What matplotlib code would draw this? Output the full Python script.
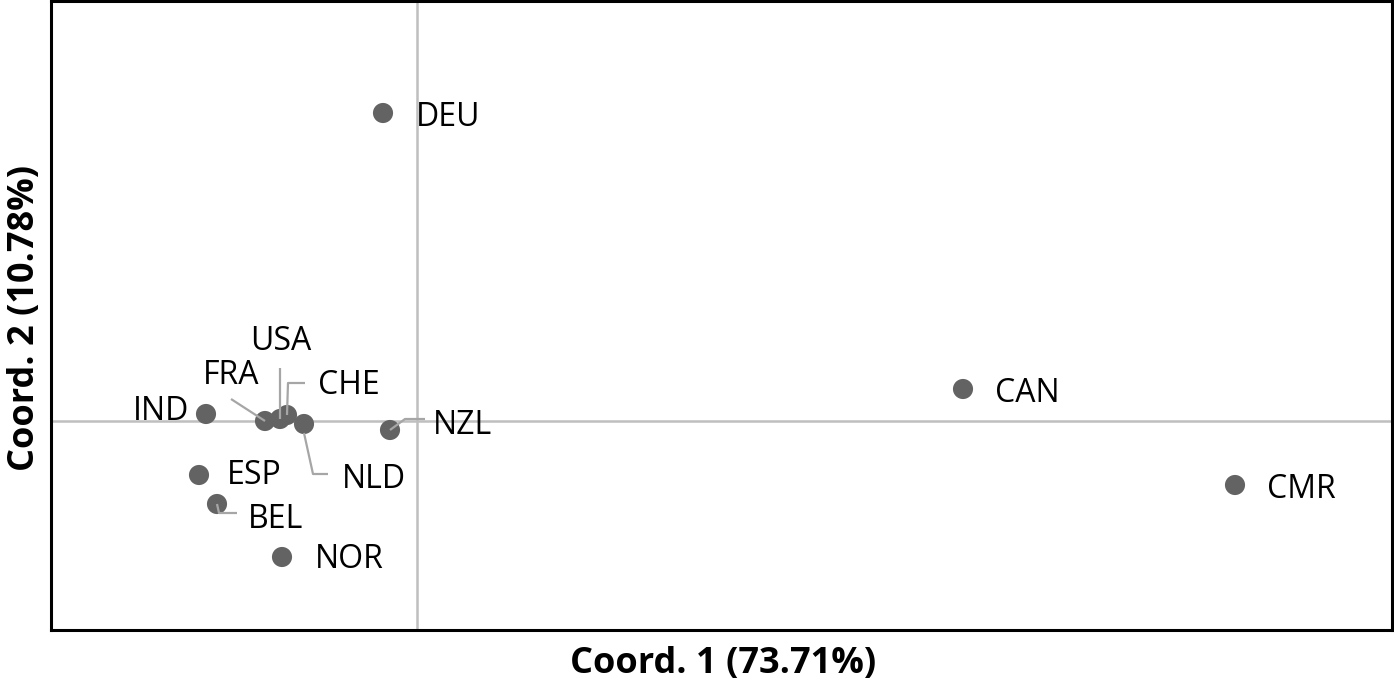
import matplotlib
matplotlib.use("Agg")
import matplotlib.pyplot as plt

# * Data
countries = ["DEU", "CAN", "CMR", "IND", "FRA", "USA", "CHE", "NLD", "NZL", "ESP", "BEL", "NOR"]
coord1 = [-0.34, 5.46, 8.18, -2.11, -1.52, -1.37, -1.30, -1.13, -0.27, -2.18, -2.00, -1.35]
coord2 = [3.08, 0.32, -0.64, 0.07, 0.00, 0.02, 0.06, -0.03, -0.09, -0.54, -0.83, -1.36]

x_label = "Coord. 1 (73.71%)"
y_label = "Coord. 2 (10.78%)"

# * Label placement (pixel offsets from the dot, y up)
# (dx, dy, ha)
label_off = {
    "DEU": (33, -4, "left"), "CAN": (32, -4, "left"), "CMR": (32, -4, "left"),
    "IND": (-17, 3, "right"), "FRA": (-34, 46, "center"), "USA": (1, 77, "center"),
    "CHE": (31, 30, "left"), "NLD": (38, -55, "left"), "NZL": (43, 5, "left"),
    "ESP": (28, 0, "left"), "BEL": (31, -15, "left"), "NOR": (33, -3, "left"),
}
# leader lines: elbow points as pixel offsets from the dot
leaders = {
    "FRA": [(0, 0), (-34, 22)],
    "USA": [(0, 0), (0, 51)],
    "CHE": [(0, 0), (1, 32), (18, 32)],
    "NLD": [(0, -9), (9, -50), (24, -50)],
    "NZL": [(0, 0), (15, 11), (35, 11)],
    "BEL": [(0, 0), (2, -9), (20, -9)],
}

px = 100.0  # pixels per data unit, both axes

fig = plt.figure(figsize=(13.94, 6.91), dpi=100)
ax = fig.add_axes([51 / 1394, 1 - 630 / 691, 1341 / 1394, 629 / 691])
ax.set_xlim(-3.66, 9.75)
ax.set_ylim(-2.09, 4.20)

ax.axhline(0, color="#bfbfbf", lw=1.8, zorder=1)
ax.axvline(0, color="#bfbfbf", lw=1.8, zorder=1)

ax.scatter(coord1, coord2, s=210, color="#636363", edgecolors="none", zorder=3)

font = ["Open Sans", "DejaVu Sans"]
for name, x, y in zip(countries, coord1, coord2):
    dx, dy, ha = label_off[name]
    ax.text(x + dx / px, y + dy / px, name, ha=ha, va="center",
            fontsize=23, family=font, color="black", zorder=5)
    if name in leaders:
        pts = leaders[name]
        ax.plot([x + p[0] / px for p in pts], [y + p[1] / px for p in pts],
                color="#a6a6a6", lw=1.6, zorder=4, solid_capstyle="butt")

ax.set_xticks([])
ax.set_yticks([])
for s in ax.spines.values():
    s.set_linewidth(2.2)
    s.set_color("black")

fig.text(723 / 1394, 1 - 664 / 691, x_label, ha="center", va="center",
         fontsize=26, fontweight="bold", family=font)
fig.text(25 / 1394, 1 - 318 / 691, y_label, ha="center", va="center",
         rotation=90, fontsize=26, fontweight="bold", family=font)

fig.savefig("out.png", dpi=100)
